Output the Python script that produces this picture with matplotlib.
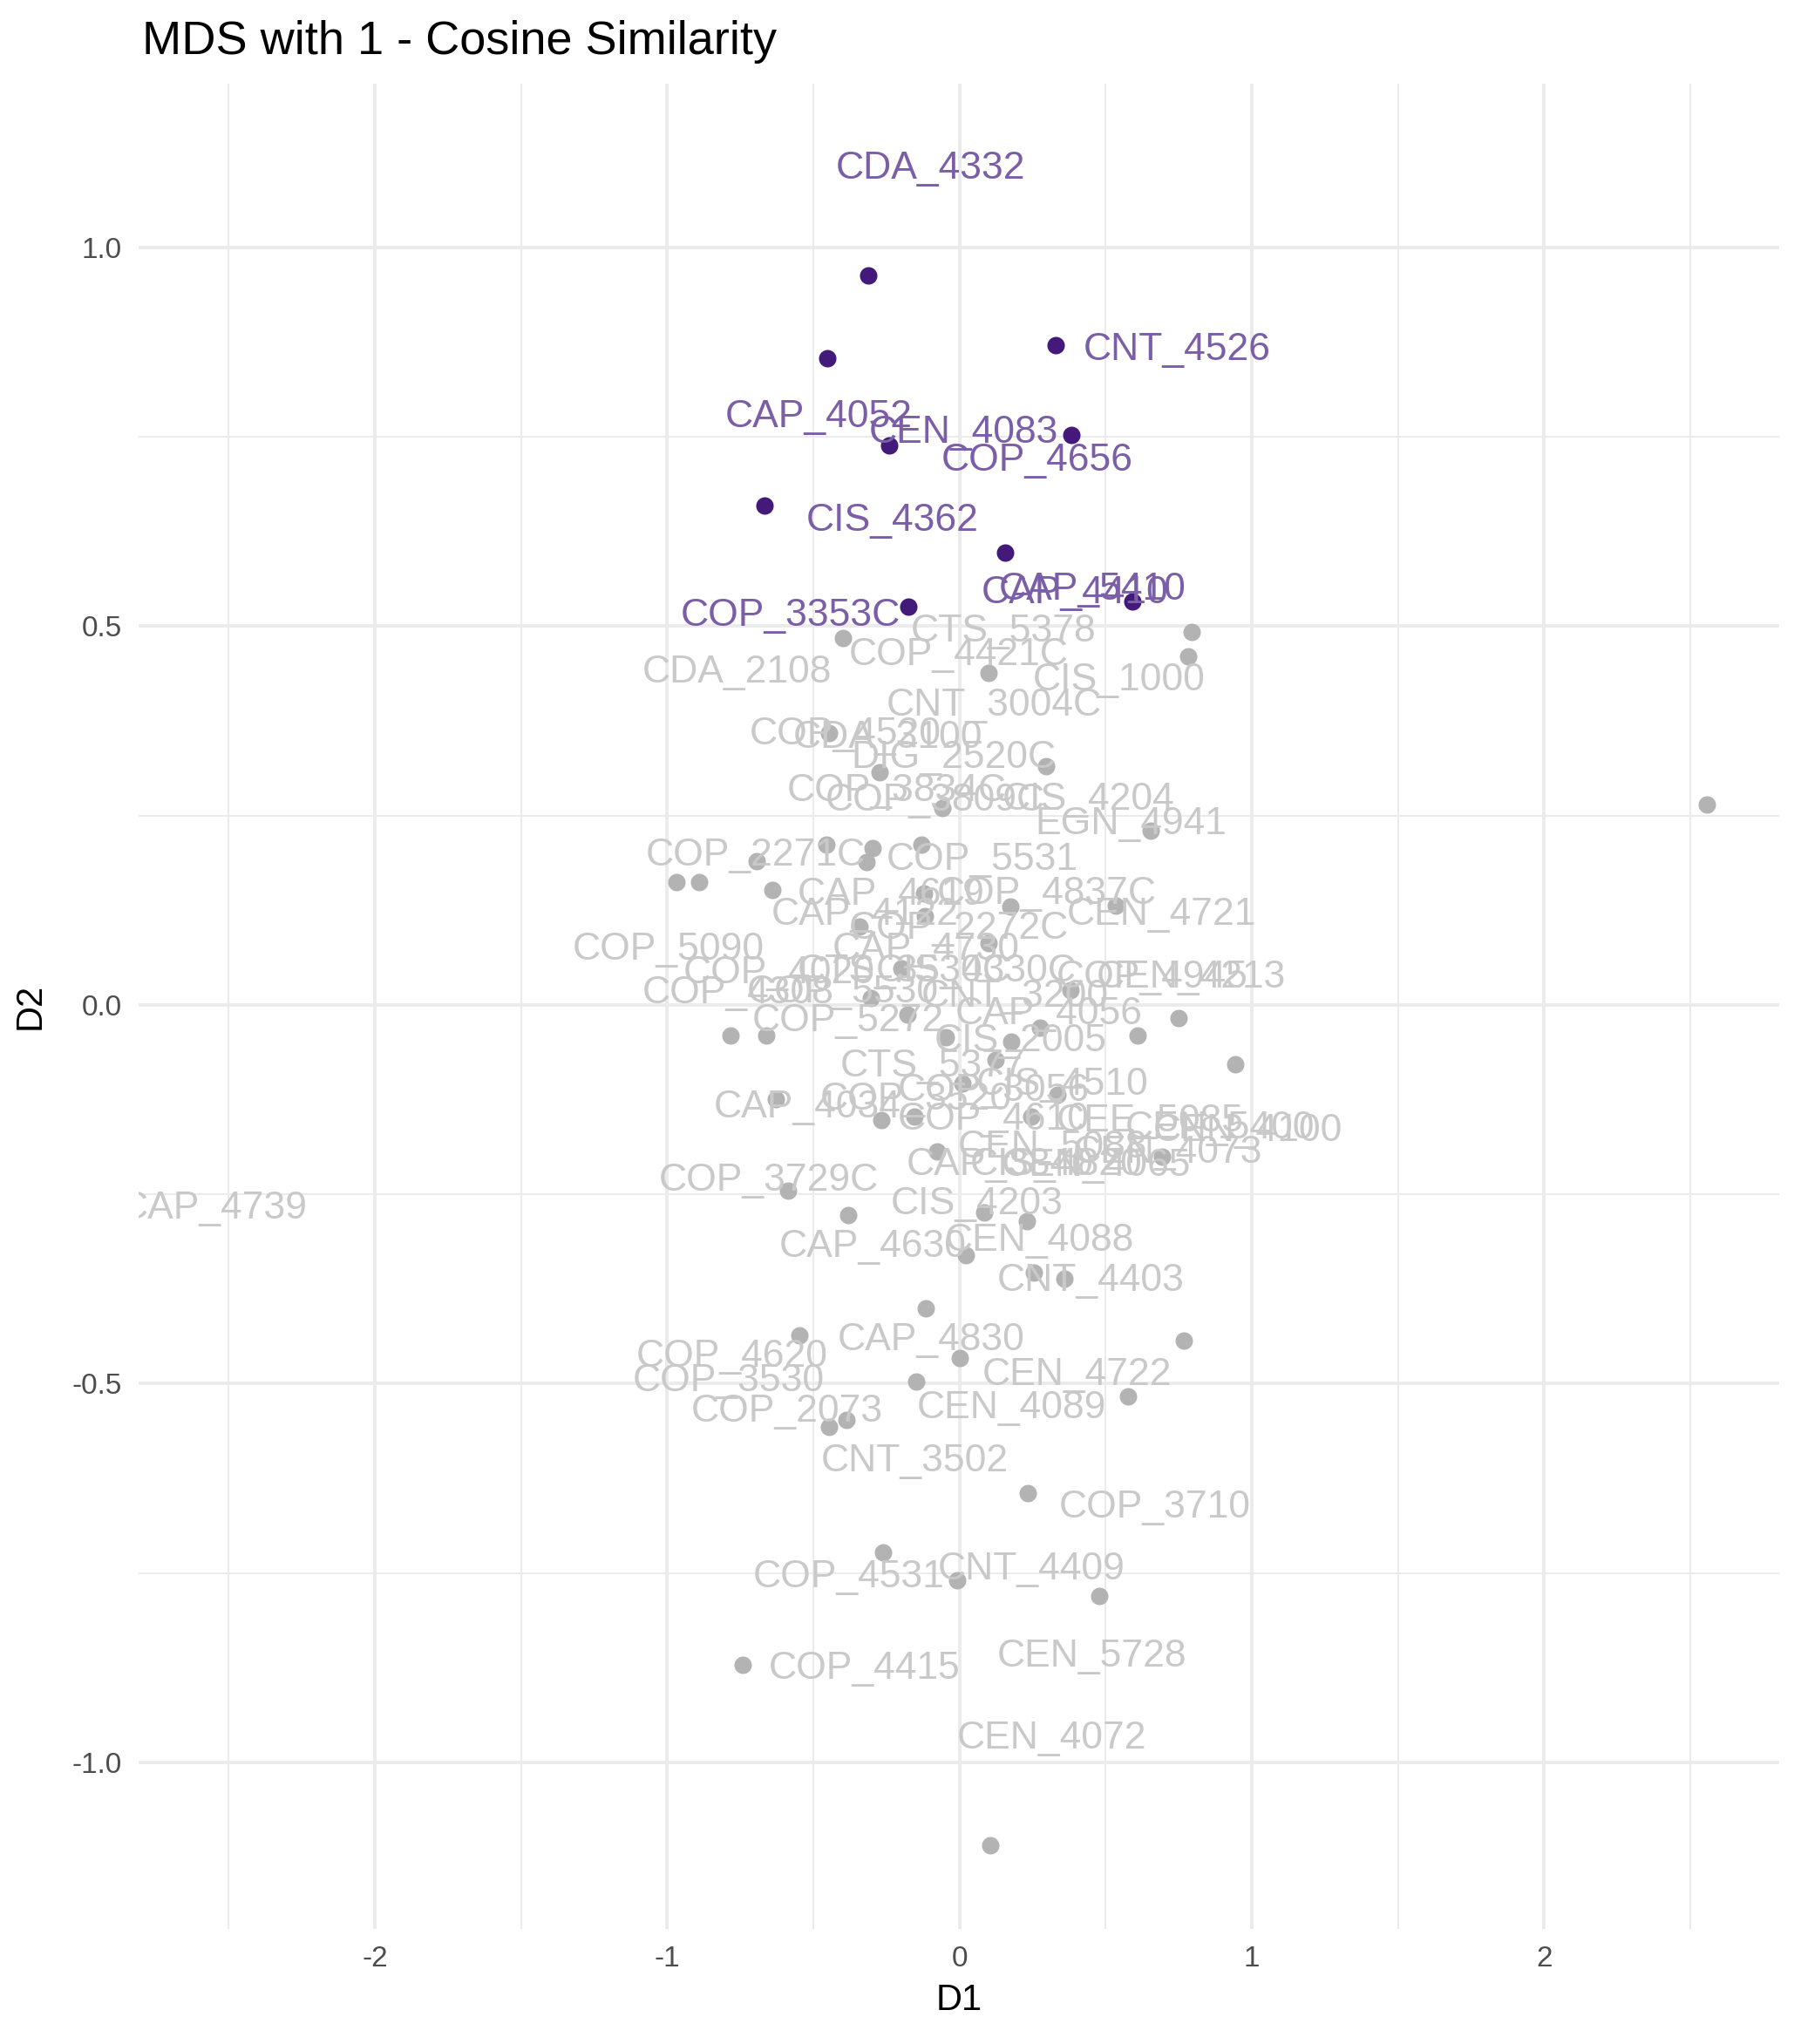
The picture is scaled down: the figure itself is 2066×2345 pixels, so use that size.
import matplotlib
matplotlib.use('Agg')
from matplotlib import pyplot as plt
from matplotlib.ticker import FixedLocator, FuncFormatter

# MDS coordinates (D1, D2) of the highlighted courses
hi_d1 = [-0.312, -0.452, 0.330, 0.383, -0.240, -0.668, 0.155, 0.592, -0.175]
hi_d2 = [0.963, 0.854, 0.871, 0.752, 0.739, 0.659, 0.597, 0.533, 0.526]

# repelled label positions for the highlighted courses
hi_names = ['CDA_4332', 'CNT_4526', 'CAP_4052', 'CEN_4083', 'COP_4656',
            'CIS_4362', 'CAP_5410', 'CAP_4410', 'COP_3353C']
hi_lab_d1 = [-0.100, 0.744, -0.480, 0.014, 0.265, -0.230, 0.455, 0.394, -0.577]
hi_lab_d2 = [1.104, 0.865, 0.776, 0.755, 0.718, 0.639, 0.548, 0.543, 0.514]

# MDS coordinates of all other courses
oth_d1 = [-0.400, 0.793, 0.782, 0.099, -0.446, 0.296, -0.273, -0.058, 2.558,
          0.654, -0.454, -0.297, -0.131, -0.695, -0.317, -0.968, -0.892,
          -0.641, -0.121, 0.175, 0.535, -0.119, -0.342, 0.099, -0.200,
          0.381, -0.302, -0.178, 0.751, 0.275, 0.609, -0.782, -0.662,
          -0.047, 0.176, 0.944, 0.123, 0.010, 0.336, -0.628, -0.266,
          -0.153, 0.247, -0.076, 0.692, -0.585, 0.086, -0.380, 0.231,
          0.021, 0.255, 0.360, -0.115, -0.549, 0.767, 0.002, -0.147,
          0.578, -0.386, -0.447, 0.233, -0.262, -0.008, 0.478, -0.741,
          0.104]
oth_d2 = [0.484, 0.492, 0.460, 0.438, 0.359, 0.315, 0.307, 0.260, 0.264,
          0.230, 0.211, 0.207, 0.211, 0.190, 0.189, 0.162, 0.162,
          0.152, 0.147, 0.130, 0.131, 0.117, 0.103, 0.082, 0.048,
          0.019, 0.009, -0.013, -0.018, -0.030, -0.041, -0.041, -0.040,
          -0.043, -0.048, -0.078, -0.073, -0.104, -0.119, -0.125, -0.152,
          -0.147, -0.148, -0.194, -0.201, -0.245, -0.274, -0.277, -0.286,
          -0.330, -0.354, -0.362, -0.401, -0.436, -0.443, -0.466, -0.497,
          -0.517, -0.548, -0.557, -0.645, -0.723, -0.760, -0.781, -0.871,
          -1.110]

# repelled label positions for the other courses
oth_names = ['CTS_5378', 'COP_4421C', 'CDA_2108', 'CIS_1000', 'CNT_3004C',
             'COP_4520', 'CDA_3100', 'DIG_2520C', 'COP_3834C', 'COP_3809C',
             'CIS_4204', 'EGN_4941', 'COP_2271C', 'COP_5531', 'CAP_4619',
             'COP_4837C', 'CAP_4122', 'COP_2272C', 'CEN_4721', 'COP_5090',
             'CAP_4730', 'COP_4020', 'CTS_3530C', 'CIS_4330C', 'COP_4945',
             'CEN_4213', 'COP_4308', 'COP_5530', 'CNT_3200', 'CAP_4056',
             'COP_5272', 'CIS_2005', 'CTS_5377', 'CIS_4510', 'COP_3056',
             'CAP_4034', 'COP_3520', 'COP_4610', 'CEE_5085', 'CEN_5400',
             'CEN_4100', 'CEN_4073', 'CEN_5088', 'CEN_4065', 'CAP_3840',
             'CIS_4820', 'COP_3729C', 'CIS_4203', 'CAP_4630', 'CEN_4088',
             'CNT_4403', 'CAP_4830', 'COP_4620', 'COP_3530', 'COP_2073',
             'CEN_4722', 'CEN_4089', 'CNT_3502', 'COP_3710', 'COP_4531',
             'CNT_4409', 'COP_4415', 'CEN_5728', 'CEN_4072', 'CAP_4739']
oth_lab_d1 = [0.150, -0.003, -0.762, 0.546, 0.118,
              -0.391, -0.245, -0.019, -0.213, -0.084,
              0.441, 0.587, -0.698, 0.078, -0.233,
              0.300, -0.323, -0.003, 0.690, -0.996,
              -0.116, -0.617, -0.188, 0.057, 0.659,
              0.793, -0.757, -0.400, 0.190, 0.307,
              -0.381, 0.210, -0.092, 0.352, 0.116,
              -0.520, -0.150, 0.116, 0.653, 0.890,
              0.986, 0.712, 0.319, 0.468, 0.140,
              0.331, -0.653, 0.060, -0.295, 0.275,
              0.449, -0.097, -0.779, -0.791, -0.590,
              0.401, 0.178, -0.153, 0.667, -0.379,
              0.247, -0.326, 0.454, 0.317, -2.550]
oth_lab_d2 = [0.493, 0.462, 0.439, 0.429, 0.395,
              0.357, 0.352, 0.326, 0.282, 0.270,
              0.271, 0.239, 0.197, 0.191, 0.145,
              0.147, 0.119, 0.101, 0.119, 0.0725,
              0.0725, 0.042, 0.044, 0.044, 0.036,
              0.036, 0.015, 0.016, 0.011, -0.012,
              -0.022, -0.048, -0.081, -0.106, -0.114,
              -0.135, -0.125, -0.152, -0.154, -0.163,
              -0.166, -0.195, -0.188, -0.213, -0.211,
              -0.211, -0.232, -0.263, -0.319, -0.311,
              -0.365, -0.443, -0.465, -0.497, -0.537,
              -0.489, -0.532, -0.603, -0.664, -0.756,
              -0.745, -0.877, -0.860, -0.969, -0.269]

x_major = [-2, -1, 0, 1, 2]
x_minor = [-2.5, -1.5, -0.5, 0.5, 1.5, 2.5]
y_major = [-1.0, -0.5, 0.0, 0.5, 1.0]
y_minor = [-0.75, -0.25, 0.25, 0.75]

plt.rcParams['font.family'] = ['Liberation Sans', 'DejaVu Sans']

fig = plt.figure(figsize=(10.33, 11.725), dpi=200)
ax = fig.add_axes([0.077, 0.0563, 0.911, 0.9027])

# theme_minimal look
for s in ax.spines.values():
    s.set_visible(False)
ax.set_xlim(-2.808, 2.805)
ax.set_ylim(-1.220, 1.216)
ax.xaxis.set_major_locator(FixedLocator(x_major))
ax.xaxis.set_minor_locator(FixedLocator(x_minor))
ax.yaxis.set_major_locator(FixedLocator(y_major))
ax.yaxis.set_minor_locator(FixedLocator(y_minor))
ax.xaxis.set_major_formatter(FuncFormatter(lambda v, p: '%d' % v))
ax.yaxis.set_major_formatter(FuncFormatter(lambda v, p: '%.1f' % v))
ax.grid(which='major', color='#EBEBEB', linewidth=1.4)
ax.grid(which='minor', color='#EBEBEB', linewidth=0.7)
ax.set_axisbelow(True)
ax.tick_params(which='both', length=0, labelsize=12, labelcolor='#4D4D4D')
ax.tick_params(axis='x', pad=7)
ax.tick_params(axis='y', pad=7)

ax.scatter(oth_d1, oth_d2, s=52, color='#B3B3B3', linewidths=0, zorder=2)
ax.scatter(hi_d1, hi_d2, s=52, color='#43197A', linewidths=0, zorder=3)

for name, lx, ly in zip(oth_names, oth_lab_d1, oth_lab_d2):
    ax.text(lx, ly, name, color='#C9C9C9', fontsize=16, ha='center',
            va='center', clip_on=True, zorder=4)
for name, lx, ly in zip(hi_names, hi_lab_d1, hi_lab_d2):
    ax.text(lx, ly, name, color='#7B5EA8', fontsize=16, ha='center',
            va='center', clip_on=True, zorder=5)

ax.set_xlabel('D1', fontsize=15, labelpad=4)
ax.set_ylabel('D2', fontsize=15, labelpad=10)
fig.text(0.0789, 0.9736, 'MDS with 1 - Cosine Similarity', fontsize=19.5,
         ha='left', va='baseline')

plt.savefig('out.png', dpi=200)
plt.close()
